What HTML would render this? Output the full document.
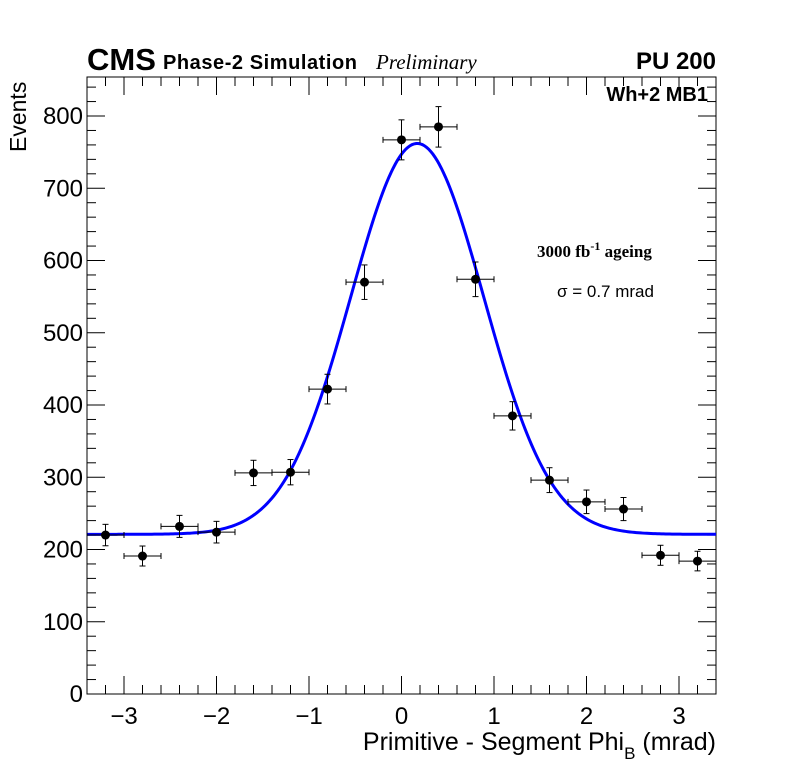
<!DOCTYPE html>
<html><head><meta charset="utf-8"><style>
body{margin:0;background:#fff;}
svg{display:block;font-family:"Liberation Sans",sans-serif;}
</style></head><body>
<svg id="chart" width="796" height="772" viewBox="0 0 796 772">
<rect x="0" y="0" width="796" height="772" fill="#fff"/>
<g id="axes"></g>
<g id="fit"></g>
<g id="points"></g>
<text x="87" y="70" font-size="31" font-weight="bold">CMS</text>
<text x="163" y="69" font-size="20" font-weight="bold" textLength="194">Phase-2 Simulation</text>
<text x="376" y="69" font-size="21" font-style="italic" font-family="Liberation Serif, serif">Preliminary</text>
<text x="716" y="69" font-size="24" font-weight="bold" text-anchor="end">PU 200</text>
<text x="708" y="101" font-size="20" font-weight="bold" text-anchor="end">Wh+2 MB1</text>
<text x="537" y="257" font-size="17" font-weight="bold" font-family="Liberation Serif, serif">3000 fb<tspan dy="-7" font-size="12">-1</tspan><tspan dy="7"> ageing</tspan></text>
<text x="557" y="297" font-size="17">σ = 0.7 mrad</text>
<text x="716" y="750" font-size="25" text-anchor="end">Primitive - Segment Phi<tspan dy="9" font-size="17">B</tspan><tspan dy="-9"> (mrad)</tspan></text>
<text transform="translate(26,152) rotate(-90)" font-size="23">Events</text>
</svg>
<script>
const binCenters=[-3.2,-2.8,-2.4,-2.0,-1.6,-1.2,-0.8,-0.4,0.0,0.4,0.8,1.2,1.6,2.0,2.4,2.8,3.2];
const counts=[220,191,232,224,306,307,422,570,767,785,574,385,296,266,256,192,184];
const fitParams=[221,541,0.17,0.72]; // constant, amplitude, mean, sigma
const xTicks=[-3,-2,-1,0,1,2,3];
const yTicks=[0,100,200,300,400,500,600,700,800];
const NS="http://www.w3.org/2000/svg";
const L=87,R=716,T=77,B=694,xmin=-3.4,xmax=3.4,ymin=0,ymax=854;
function X(v){return L+(v-xmin)/(xmax-xmin)*(R-L);}
function Y(v){return B-(v-ymin)/(ymax-ymin)*(B-T);}
function mk(tag,attrs,parent){const e=document.createElementNS(NS,tag);for(const k in attrs)e.setAttribute(k,attrs[k]);parent.appendChild(e);return e;}
const ax=document.getElementById('axes');
const frame=mk('rect',{x:L,y:T,width:R-L,height:B-T,fill:'none',stroke:'#000','stroke-width':1},ax);


for(let v=-3.4;v<=3.41;v+=0.2){const major=xTicks.some(t=>Math.abs(t-v)<1e-6);const len=major?18:9;
 mk('line',{x1:X(v),x2:X(v),y1:B,y2:B-len,stroke:'#000'},ax);mk('line',{x1:X(v),x2:X(v),y1:T,y2:T+len,stroke:'#000'},ax);}
xTicks.forEach(t=>{const tx=mk('text',{x:X(t),y:B+30,'font-size':24,'text-anchor':'middle'},ax);tx.textContent=t<0?'\u2212'+Math.abs(t):String(t);
 
 });
for(let v=0;v<=ymax;v+=20){const major=v%100===0;const len=major?18:9;
 mk('line',{x1:L,x2:L+len,y1:Y(v),y2:Y(v),stroke:'#000'},ax);mk('line',{x1:R,x2:R-len,y1:Y(v),y2:Y(v),stroke:'#000'},ax);}
yTicks.forEach(t=>{const tx=mk('text',{x:L-4,y:Y(t)+8,'font-size':24,'text-anchor':'end'},ax);tx.textContent=String(t);
 
 });
const fg=document.getElementById('fit');
let d='';for(let i=0;i<=300;i++){const v=xmin+(xmax-xmin)*i/300;const f=fitParams[0]+fitParams[1]*Math.exp(-Math.pow(v-fitParams[2],2)/(2*fitParams[3]*fitParams[3]));d+=(i?'L':'M')+X(v).toFixed(2)+','+Y(f).toFixed(2);}
const fp=mk('path',{d:d,fill:'none',stroke:'#0000ff','stroke-width':3},fg);


const pg=document.getElementById('points');
binCenters.forEach((c,i)=>{const n=counts[i],e=Math.sqrt(n),g=mk('g',{},pg);
 
 
 mk('line',{x1:X(c-0.2),x2:X(c+0.2),y1:Y(n),y2:Y(n),stroke:'#000'},g);
 mk('line',{x1:X(c),x2:X(c),y1:Y(n-e),y2:Y(n+e),stroke:'#000'},g);
 [c-0.2,c+0.2].forEach(v=>mk('line',{x1:X(v),x2:X(v),y1:Y(n)-3,y2:Y(n)+3,stroke:'#000'},g));
 [n-e,n+e].forEach(v=>mk('line',{x1:X(c)-3,x2:X(c)+3,y1:Y(v),y2:Y(v),stroke:'#000'},g));
 mk('circle',{cx:X(c),cy:Y(n),r:4.5,fill:'#000'},g);});
</script>
</body></html>
